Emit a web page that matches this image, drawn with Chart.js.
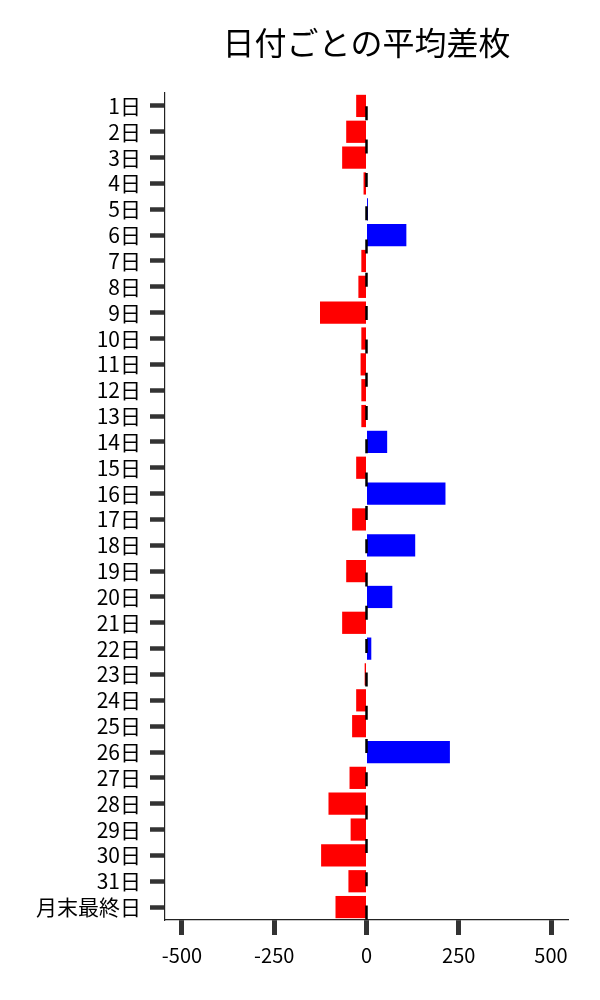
<!DOCTYPE html>
<html>
<head>
<meta charset="utf-8">
<script src="https://cdn.jsdelivr.net/npm/chart.js@4"></script>
<style>
  html, body { margin: 0; padding: 0; background: #fff; }
  #wrap { width: 600px; height: 1000px; }
</style>
</head>
<body>
<div id="wrap"><canvas id="diffChart" width="600" height="1000"></canvas></div>
<script>
// values
const days = ["1日","2日","3日","4日","5日","6日","7日","8日","9日","10日",
  "11日","12日","13日","14日","15日","16日","17日","18日","19日","20日",
  "21日","22日","23日","24日","25日","26日","27日","28日","29日","30日",
  "31日","月末最終日"];
const avgDiff = [-28, -55, -66, -8, 4, 108, -14, -22, -126, -14,
  -16, -14, -14, 56, -28, 214, -39, 132, -55, 70,
  -66, 13, -5, -28, -39, 226, -46, -103, -43, -123,
  -49, -84];
const xTicks = [-500, -250, 0, 250, 500];
const titleText = "日付ごとの平均差枚";

const FONT = "'Noto Sans CJK JP', 'Noto Sans', sans-serif";
Chart.defaults.font.family = FONT;
Chart.defaults.color = "#000";

let barColors = avgDiff.map(v => v < 0 ? "#ff0000" : "#0000ff");

// title centred over the plot area + dashed zero line
const extras = {
  id: "extras",
  afterDatasetsDraw(chart) {
    const c = chart.ctx, a = chart.chartArea;
    const x0 = chart.scales.x.getPixelForValue(0);
    c.save();
    c.strokeStyle = "#000";
    c.lineWidth = 2.5;
    c.setLineDash([14, 19.3]);
    c.lineDashOffset = 20;
    c.beginPath();
    c.moveTo(x0, a.top);
    c.lineTo(x0, a.bottom);
    c.stroke();
    c.restore();
  },
  afterDraw(chart) {
    const c = chart.ctx, a = chart.chartArea;
    c.save();
    c.font = "32px " + FONT;
    c.fillStyle = "#000";
    c.textAlign = "center";
    c.textBaseline = "middle";
    c.fillText(titleText, (a.left + a.right) / 2, 43);
    c.restore();
  }
};

new Chart(document.getElementById("diffChart"), {
  type: "bar",
  data: {
    labels: days,
    datasets: [{
      data: avgDiff,
      backgroundColor: barColors,
      borderWidth: 0,
      barPercentage: 0.86,
      categoryPercentage: 1.0
    }]
  },
  options: {
    indexAxis: "y",
    responsive: false,
    animation: false,
    layout: { padding: { top: 93, right: 32, left: 0, bottom: 0 } },
    plugins: {
      legend: { display: false },
      title: { display: false },
      tooltip: { enabled: false }
    },
    scales: {
      x: {
        min: -546,
        max: 546,
        afterBuildTicks: s => { s.ticks = xTicks.map(v => ({ value: v })); },
        afterFit: s => { s.height = 80; },
        ticks: { font: { size: 20 }, padding: 8, color: "#000", maxRotation: 0 },
        grid: { drawOnChartArea: false, drawTicks: true, tickLength: 15, tickWidth: 5, tickColor: "#333" },
        border: { display: true, color: "#222", width: 1.2 }
      },
      y: {
        afterFit: s => { s.width = 165; },
        ticks: { font: { size: 21 }, padding: 9, color: "#000", autoSkip: false },
        grid: { offset: false, drawOnChartArea: false, drawTicks: true, tickLength: 15, tickWidth: 4.5, tickColor: "#333" },
        border: { display: true, color: "#222", width: 1.2 }
      }
    }
  },
  plugins: [extras]
});
</script>
</body>
</html>
